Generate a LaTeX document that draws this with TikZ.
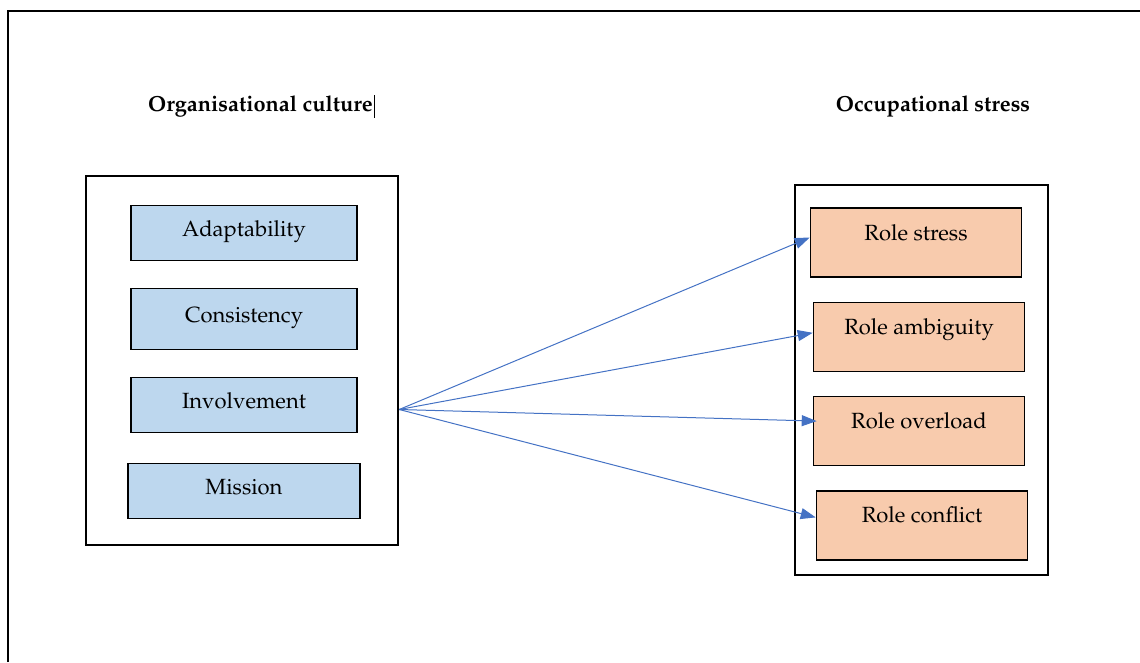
\documentclass[tikz,border=0pt]{standalone}
\usepackage[T1]{fontenc}
\usepackage{xcolor}
\usepackage{mathpazo}
\usepackage{tikz}
\usetikzlibrary{positioning,arrows.meta}

\definecolor{cultblue}{HTML}{BDD7EE}
\definecolor{stresspeach}{HTML}{F8CBAD}
\definecolor{linkblue}{HTML}{4472C4}

\begin{document}
\begin{tikzpicture}[x=1pt, y=-1pt, font=\fontsize{22}{26}\selectfont,
    frame/.style={rectangle, draw, line width=2.4pt},
    dimbox/.style={rectangle, draw, line width=1.6pt, fill=cultblue, minimum width=226pt, inner ysep=0pt, text height=31pt, text depth=24pt},
    rolebox/.style={rectangle, draw, line width=1.6pt, fill=stresspeach, minimum width=211pt, inner ysep=0pt, text height=32pt, text depth=37pt},
    link/.style={draw=linkblue, line width=1pt, -{Triangle[length=15pt,width=11pt]}}]
    \useasboundingbox (0,0) rectangle (1140,662);
    % page frame
    \draw[line width=1.8pt] (8,662) -- (8,11) -- (1140,11);

    \node[font=\fontsize{21.8}{26}\selectfont\bfseries, inner sep=0pt] (oc) at (260.5,106) {Organisational culture};
    \draw[line width=0.8pt] ([xshift=1.5pt]oc.east) ++(0,-11) -- ++(0,23);
    \node[font=\fontsize{21.8}{26}\selectfont\bfseries, inner sep=0pt] (os) at (933,106) {Occupational stress};

    \node[frame, minimum width=312pt, minimum height=369pt] (cult) at (242,360.5) {};
    \node[frame, minimum width=253pt, minimum height=390pt] (stress) at (921.5,380) {};

    \node[dimbox] (adapt) at (244,233) {Adaptability};
    \node[dimbox, node distance=86pt, minimum height=61pt, below of=adapt] (cons) {Consistency};
    \node[dimbox, node distance=86pt, below of=cons] (invol) {Involvement};
    \node[dimbox, node distance=86pt, minimum width=232pt, below of=invol] (miss) {Mission};

    \node[rolebox] (rs) at (916,242.5) {Role stress};
    \node[rolebox, node distance=94.3pt, below of=rs, xshift=3pt] (ra) {Role ambiguity};
    \node[rolebox, node distance=94.3pt, below of=ra] (ro) {Role overload};
    \node[rolebox, node distance=94.3pt, below of=ro, xshift=3pt] (rc) {Role conflict};

    \coordinate (src) at ([yshift=-49pt]cult.east);
    \draw[link] (src) -- ([yshift=5pt]rs.west);
    \draw[link] (src) -- ([yshift=4pt]ra.west);
    \draw[link] (src) -- ([xshift=4pt,yshift=10pt]ro.west);
    \draw[link] (src) -- ([yshift=8pt]rc.west);
\end{tikzpicture}
\end{document}
